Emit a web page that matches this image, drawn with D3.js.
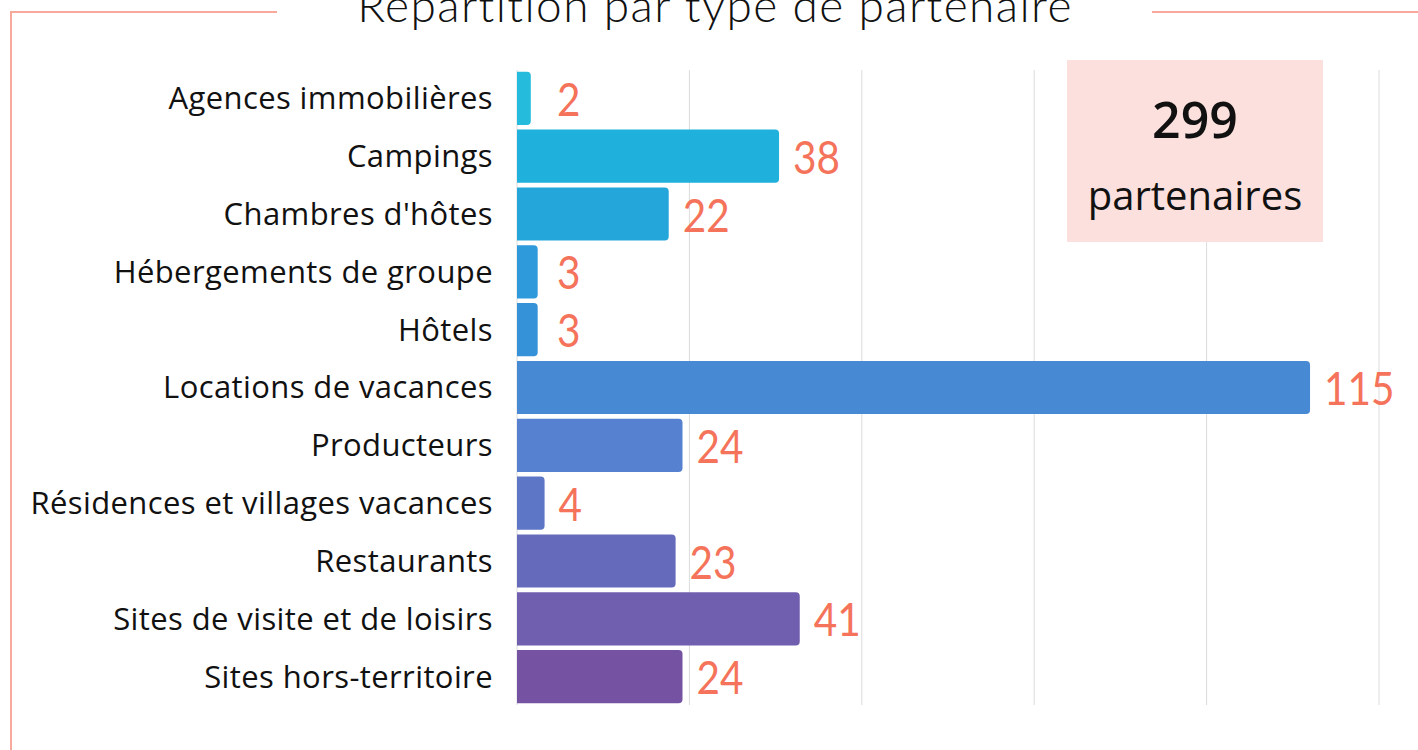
<!DOCTYPE html>
<html>
<head>
<meta charset="utf-8">
<script src="https://cdn.jsdelivr.net/npm/d3@7"></script>
<style>
  body { margin: 0; background: #fff; }
</style>
</head>
<body>
<div id="chart"></div>
<script>
const categories = [
  "Agences immobilières", "Campings", "Chambres d'hôtes", "Hébergements de groupe",
  "Hôtels", "Locations de vacances", "Producteurs", "Résidences et villages vacances",
  "Restaurants", "Sites de visite et de loisirs", "Sites hors-territoire"
];
const values = [2, 38, 22, 3, 3, 115, 24, 4, 23, 41, 24];
const barColors = [
  "#24bbdc", "#20b0dc", "#24a6da", "#2e9adb", "#3592d9", "#4889d4",
  "#5581d0", "#5e76c6", "#666abb", "#705fae", "#7653a2"
];
const gridTicks = [0, 25, 50, 75, 100, 125];
const totalLabel = "299";
const totalText = "partenaires";
const title = "Répartition par type de partenaire";

const width = 1418, height = 750;
const margin = { top: 70, right: 39, bottom: 45, left: 517 };

const svg = d3.select("#chart").append("svg")
  .attr("width", width).attr("height", height);

// frame
const frameColor = "#f8a99b";
svg.append("path")
  .attr("d", "M11,750V12H277M1152,12H1418")
  .attr("fill", "none").attr("stroke", frameColor).attr("stroke-width", 2);

svg.append("text")
  .attr("x", 715).attr("y", 22)
  .attr("text-anchor", "middle")
  .attr("font-family", "Lato, sans-serif").attr("font-weight", 300)
  .attr("font-size", 46).attr("letter-spacing", 1.4)
  .attr("fill", "#111")
  .text(title);

const x = d3.scaleLinear().domain([0, 125]).range([margin.left, width - margin.right]);
const y = d3.scaleBand().domain(categories)
  .range([margin.top, height - margin.bottom])
  .paddingInner(0.08).paddingOuter(0.03);

// grid
svg.append("g").selectAll("line").data(gridTicks).join("line")
  .attr("x1", d => x(d)).attr("x2", d => x(d))
  .attr("y1", margin.top).attr("y2", height - margin.bottom)
  .attr("stroke", "#dcdcdc").attr("stroke-width", 1);

// bars with rounded right end
const r = 4;
svg.append("g").selectAll("path").data(values).join("path")
  .attr("d", (d, i) => {
    const x0 = x(0), x1 = x(d), y0 = y(categories[i]), h = y.bandwidth();
    return `M${x0},${y0}H${x1 - r}Q${x1},${y0} ${x1},${y0 + r}V${y0 + h - r}Q${x1},${y0 + h} ${x1 - r},${y0 + h}H${x0}Z`;
  })
  .attr("fill", (d, i) => barColors[i]);

// category labels
svg.append("g").selectAll("text").data(categories).join("text")
  .attr("x", x(0) - 24)
  .attr("y", d => y(d) + y.bandwidth() / 2)
  .attr("dy", "0.35em")
  .attr("text-anchor", "end")
  .attr("font-family", "'Open Sans', sans-serif")
  .attr("font-size", 31).attr("letter-spacing", 0.4)
  .attr("fill", "#111")
  .text(d => d);

// value labels (slightly narrowed digits)
svg.append("g").selectAll("text").data(values).join("text")
  .attr("transform", (d, i) =>
    `translate(${Math.max(x(d) + 14, x(0) + 40)},${y(categories[i]) + y.bandwidth() / 2 + 1}) scale(0.88,1)`)
  .attr("dy", "0.36em")
  .attr("font-family", "Lato, sans-serif")
  .attr("font-size", 46)
  .attr("fill", "#f4735a")
  .text(d => d);

// total box
svg.append("rect")
  .attr("x", 1067).attr("y", 60).attr("width", 256).attr("height", 182)
  .attr("fill", "#fce0dd");
svg.append("text")
  .attr("x", 1195).attr("y", 138).attr("text-anchor", "middle")
  .attr("font-family", "'Open Sans', sans-serif").attr("font-weight", 600)
  .attr("font-size", 50).attr("fill", "#111")
  .text(totalLabel);
svg.append("text")
  .attr("x", 1195).attr("y", 210).attr("text-anchor", "middle")
  .attr("font-family", "'Open Sans', sans-serif")
  .attr("font-size", 40).attr("fill", "#111")
  .text(totalText);
</script>
</body>
</html>
